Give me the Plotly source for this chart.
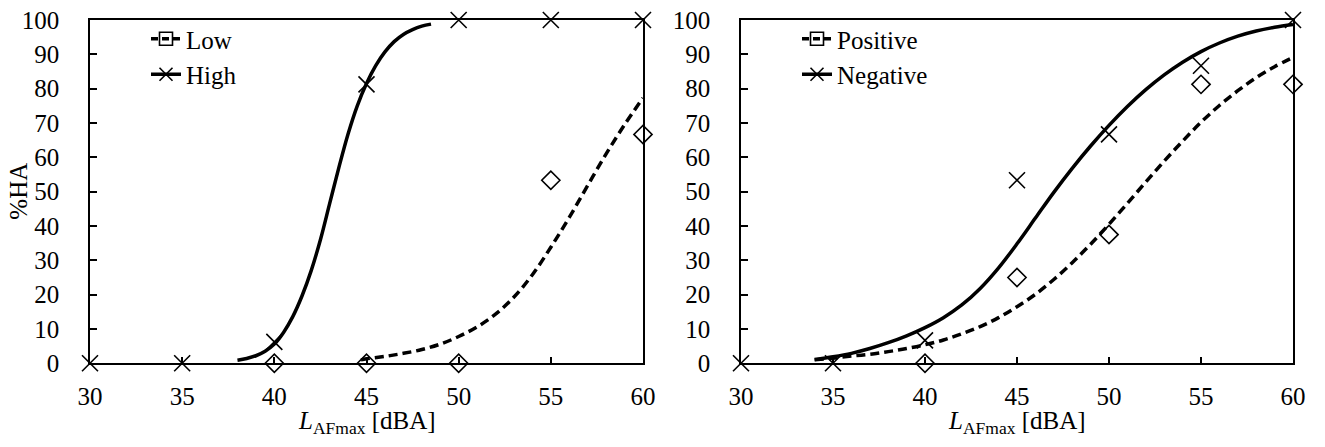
import plotly.graph_objects as go

# ---------------- data ----------------
# Left panel: data points
high_x = [30, 35, 40, 45, 50, 55, 60]
high_y = [0, 0, 6.25, 81.25, 100, 100, 100]
low_x = [40, 45, 50, 55, 60]
low_y = [0, 0, 0, 53.33, 66.67]

# Left panel: fitted curves
high_curve_x = [38, 38.5, 39, 39.5, 40, 40.5, 41, 41.5, 42, 42.5, 43, 43.5, 44,
                44.5, 45, 45.5, 46, 46.5, 47, 47.5, 48, 48.5]
high_curve_y = [0.9, 1.4, 2.2, 3.5, 5.6, 9.0, 13.6, 19.6, 27.0, 36.0, 46.5, 57.0,
                66.8, 75.0, 81.5, 86.7, 90.7, 93.7, 95.8, 97.2, 98.2, 98.8]
low_curve_x = [44.7, 45, 46, 47, 48, 49, 50, 51, 52, 53, 54, 55, 56, 57, 58, 59, 60]
low_curve_y = [1.0, 1.3, 2.0, 2.9, 4.0, 5.6, 7.8, 10.6, 14.3, 19.3, 25.8, 33.8,
               42.5, 51.8, 61.0, 69.5, 77.3]

# Right panel: data points
neg_x = [30, 35, 40, 45, 50, 55, 60]
neg_y = [0, 0, 6.67, 53.33, 66.67, 86.67, 100]
pos_x = [40, 45, 50, 55, 60]
pos_y = [0, 25, 37.5, 81.25, 81.25]

# Right panel: fitted curves
neg_curve_x = [34, 35, 36, 37, 38, 39, 40, 41, 42, 43, 44, 45, 46, 47, 48, 49, 50,
               51, 52, 53, 54, 55, 56, 57, 58, 59, 60]
neg_curve_y = [1.1, 1.9, 2.9, 4.3, 6.0, 8.0, 10.4, 13.3, 17.0, 21.8, 27.8, 34.8,
               42.3, 49.8, 56.8, 63.3, 69.3, 74.8, 79.7, 84.0, 87.7, 90.8, 93.3,
               95.3, 96.8, 97.9, 98.7]
pos_curve_x = [34, 35, 36, 37, 38, 39, 40, 41, 42, 43, 44, 45, 46, 47, 48, 49, 50,
               51, 52, 53, 54, 55, 56, 57, 58, 59, 60]
pos_curve_y = [1.0, 1.5, 2.1, 2.6, 3.4, 4.3, 5.4, 6.8, 8.6, 10.7, 13.3, 16.5,
               20.1, 24.4, 29.3, 34.7, 40.5, 46.6, 52.8, 58.9, 64.7, 70.2, 75.1,
               79.4, 83.2, 86.4, 89.1]

x_ticks = [30, 35, 40, 45, 50, 55, 60]
y_ticks = [0, 10, 20, 30, 40, 50, 60, 70, 80, 90, 100]

left_names = ["Low", "High"]
right_names = ["Positive", "Negative"]
x_title = "<i>L</i><sub>AFmax</sub> [dBA]"
y_title = "%HA"

# ---------------- style ----------------
FONT = "Liberation Serif"
FS = 25
W, H = 1325, 447
DASH = "9px,5px"
LW = 3.5

fig = go.Figure()


def add_panel(xa, ya, legend, names, dash_cx, dash_cy, solid_cx, solid_cy,
              dia_x, dia_y, cross_x, cross_y):
    fig.add_trace(go.Scatter(x=dash_cx, y=dash_cy, mode="lines", xaxis=xa, yaxis=ya,
                             line=dict(color="black", width=LW, dash=DASH, shape="spline"),
                             showlegend=False, hoverinfo="skip"))
    fig.add_trace(go.Scatter(x=solid_cx, y=solid_cy, mode="lines", xaxis=xa, yaxis=ya,
                             line=dict(color="black", width=LW, shape="spline"),
                             showlegend=False, hoverinfo="skip"))
    fig.add_trace(go.Scatter(x=dia_x, y=dia_y, mode="markers", xaxis=xa, yaxis=ya,
                             marker=dict(symbol="diamond-open", size=14, color="black",
                                         line=dict(width=1.6, color="black")),
                             cliponaxis=False, showlegend=False))
    fig.add_trace(go.Scatter(x=cross_x, y=cross_y, mode="markers", xaxis=xa, yaxis=ya,
                             marker=dict(symbol="x-thin-open", size=16, color="black",
                                         line=dict(width=1.6, color="black")),
                             cliponaxis=False, showlegend=False))
    fig.add_trace(go.Scatter(x=[None], y=[None], mode="lines+markers", xaxis=xa, yaxis=ya,
                             name=names[0], legend=legend, legendgroup=names[0],
                             line=dict(color="black", width=LW, dash="7px,4px"),
                             marker=dict(symbol="square-open", size=13, color="black",
                                         line=dict(width=1.6, color="black"))))
    fig.add_trace(go.Scatter(x=[None], y=[None], mode="lines+markers", xaxis=xa, yaxis=ya,
                             name=names[1], legend=legend, legendgroup=names[1],
                             line=dict(color="black", width=LW),
                             marker=dict(symbol="x-thin-open", size=13, color="black",
                                         line=dict(width=1.6, color="black"))))


add_panel("x", "y", "legend", left_names, low_curve_x, low_curve_y,
          high_curve_x, high_curve_y, low_x, low_y, high_x, high_y)
add_panel("x2", "y2", "legend2", right_names, pos_curve_x, pos_curve_y,
          neg_curve_x, neg_curve_y, pos_x, pos_y, neg_x, neg_y)

y_dom = [(H - 363.3) / H, (H - 20) / H]
xl_dom = [90 / W, 643 / W]
xr_dom = [741 / W, 1293 / W]

tf = dict(family=FONT, size=FS, color="black")
axis_common = dict(showgrid=False, zeroline=False, showline=True, linecolor="black",
                   linewidth=1.5, mirror=True, ticks="inside", ticklen=7,
                   tickwidth=1.5, tickcolor="black", automargin=False,
                   tickfont=tf)

fig.update_layout(
    width=W, height=H,
    margin=dict(l=0, r=0, t=0, b=0),
    paper_bgcolor="white", plot_bgcolor="white",
    font=tf,
    xaxis=dict(domain=xl_dom, anchor="y", range=[30, 60], tickvals=x_ticks,
               ticklabelstandoff=10, **axis_common),
    yaxis=dict(domain=y_dom, anchor="x", range=[0, 100], tickvals=y_ticks,
               ticklabelstandoff=24, **axis_common),
    xaxis2=dict(domain=xr_dom, anchor="y2", range=[30, 60], tickvals=x_ticks,
                ticklabelstandoff=10, **axis_common),
    yaxis2=dict(domain=y_dom, anchor="x2", range=[0, 100], tickvals=y_ticks,
                ticklabelstandoff=24, **axis_common),
    legend=dict(x=146 / W, y=(H - 16) / H, xanchor="left", yanchor="top",
                bgcolor="rgba(0,0,0,0)", font=tf, tracegroupgap=0,
                borderwidth=0),
    legend2=dict(x=797 / W, y=(H - 16) / H, xanchor="left", yanchor="top",
                 bgcolor="rgba(0,0,0,0)", font=tf, tracegroupgap=0,
                 borderwidth=0),
    annotations=[
        dict(text=x_title, xref="paper", yref="paper", showarrow=False,
             x=sum(xl_dom) / 2, y=(H - 422) / H, xanchor="center", yanchor="middle",
             font=tf),
        dict(text=x_title, xref="paper", yref="paper", showarrow=False,
             x=sum(xr_dom) / 2, y=(H - 422) / H, xanchor="center", yanchor="middle",
             font=tf),
        dict(text=y_title, xref="paper", yref="paper", showarrow=False,
             x=19 / W, y=sum(y_dom) / 2, xanchor="center", yanchor="middle",
             textangle=-90, font=tf),
    ],
)

fig.write_html("out.html", config={"displayModeBar": False},
               post_script="document.body.style.margin='0';")
